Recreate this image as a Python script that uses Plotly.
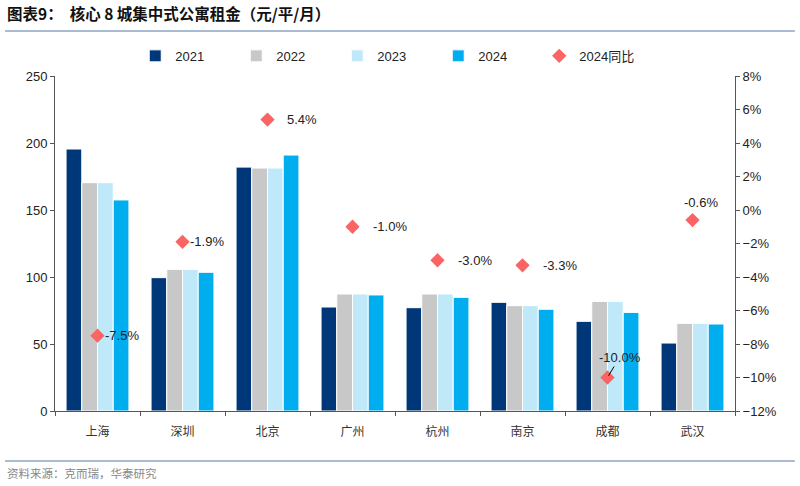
import plotly.graph_objects as go

cities = ["上海", "深圳", "北京", "广州", "杭州", "南京", "成都", "武汉"]
rent_2021 = [195.5, 99.5, 182, 77.6, 77.1, 81.1, 66.9, 50.7]
rent_2022 = [170.4, 105.7, 181.3, 87.3, 87.3, 78.6, 81.8, 65.4]
rent_2023 = [170.4, 105.7, 181.3, 87.3, 87.3, 78.6, 81.8, 65.4]
rent_2024 = [157.5, 103.5, 191, 86.6, 84.8, 75.9, 73.6, 64.9]
yoy_2024 = [-7.5, -1.9, 5.4, -1.0, -3.0, -3.3, -10.0, -0.6]
yoy_labels = ["-7.5%", "-1.9%", "5.4%", "-1.0%", "-3.0%", "-3.3%", "-10.0%", "-0.6%"]
years = ["2021", "2022", "2023", "2024"]
colors = ["#003778", "#c8c8c8", "#bfe9f9", "#00adef"]

FONT = "Liberation Sans, Arial, sans-serif"
CJK = "Noto Sans CJK SC"

fig = go.Figure()
for name, vals, c in zip(years, [rent_2021, rent_2022, rent_2023, rent_2024], colors):
    fig.add_trace(go.Bar(x=cities, y=vals, name=name, marker=dict(color=c, line=dict(color="white", width=1))))

fig.add_trace(go.Scatter(x=cities, y=yoy_2024, name="2024同比", mode="markers", yaxis="y2",
                         marker=dict(symbol="diamond", size=11, color="#fa6464")))

# label placements (xshift, yshift, xanchor)
place = [(5, 0, "left"), (5, 0, "left"), (17, 0, "left"), (18, 0, "left"), (18, 0, "left"),
         (18, 0, "left"), None, (8, 18, "center")]
for i, (c, v, t) in enumerate(zip(cities, yoy_2024, yoy_labels)):
    if place[i] is None:
        fig.add_annotation(x=c, y=v, yref="y2", text=t, showarrow=True, arrowhead=0, arrowwidth=1,
                           arrowcolor="#000", ax=12, ay=-20, standoff=2,
                           font=dict(family=FONT, size=13, color="#222"))
    else:
        xs, ys, xa = place[i]
        fig.add_annotation(x=c, y=v, yref="y2", text=t, showarrow=False, xshift=xs, yshift=ys,
                           xanchor=xa, font=dict(family=FONT, size=13, color="#222"))

fig.add_annotation(x=-0.0735, y=1.188, xref="paper", yref="paper", xanchor="left", yanchor="middle",
                   text="<b>图表9：  核心 8 城集中式公寓租金（元/平/月）</b>", showarrow=False,
                   font=dict(family=CJK, size=15.5, color="#111"))

fig.update_layout(
    width=800, height=486,
    margin=dict(l=55, r=65, t=76, b=75, autoexpand=False),
    paper_bgcolor="white", plot_bgcolor="white",
    barmode="group", bargap=0.26, bargroupgap=0,
    font=dict(family=FONT, size=13, color="#222"),
    showlegend=True,
    legend=dict(orientation="h", x=0.118, xanchor="left", y=1.06, yanchor="middle",
                entrywidth=56, entrywidthmode="pixels", font=dict(family=FONT + ", " + CJK, size=13),
                itemwidth=30, tracegroupgap=0),
    xaxis=dict(showline=True, linecolor="#555", linewidth=1, ticks="outside", tickson="boundaries",
               ticklen=4, tickcolor="#555", ticklabelstandoff=10,
               tickfont=dict(family=CJK, size=12, color="#333")),
    yaxis=dict(range=[0, 250], dtick=50, showgrid=False, showline=True, linecolor="#555",
               ticks="outside", ticklen=4, tickcolor="#555", zeroline=False,
               tickfont=dict(family=FONT, size=13)),
    yaxis2=dict(range=[-12, 8], dtick=2, overlaying="y", side="right", showgrid=False, showline=True,
                linecolor="#555", ticks="outside", ticklen=4, tickcolor="#555", zeroline=False,
                ticksuffix="%", tickfont=dict(family=FONT, size=13)),
)

# title & footer separators and source
fig.add_shape(type="line", xref="paper", yref="paper", x0=-0.0735, x1=1.088, y0=1.134, y1=1.134,
              line=dict(color="#a9bcd4", width=2))
fig.add_shape(type="line", xref="paper", yref="paper", x0=-0.0735, x1=1.088, y0=-0.149, y1=-0.149,
              line=dict(color="#a9bcd4", width=2))
fig.add_annotation(x=-0.0735, y=-0.185, xref="paper", yref="paper", xanchor="left", yanchor="middle",
                   text="资料来源：克而瑞，华泰研究", showarrow=False,
                   font=dict(family=CJK, size=11.5, color="#888"))

fig.write_html("out.html", config={"displayModeBar": False},
               post_script="document.body.style.margin='0';")
